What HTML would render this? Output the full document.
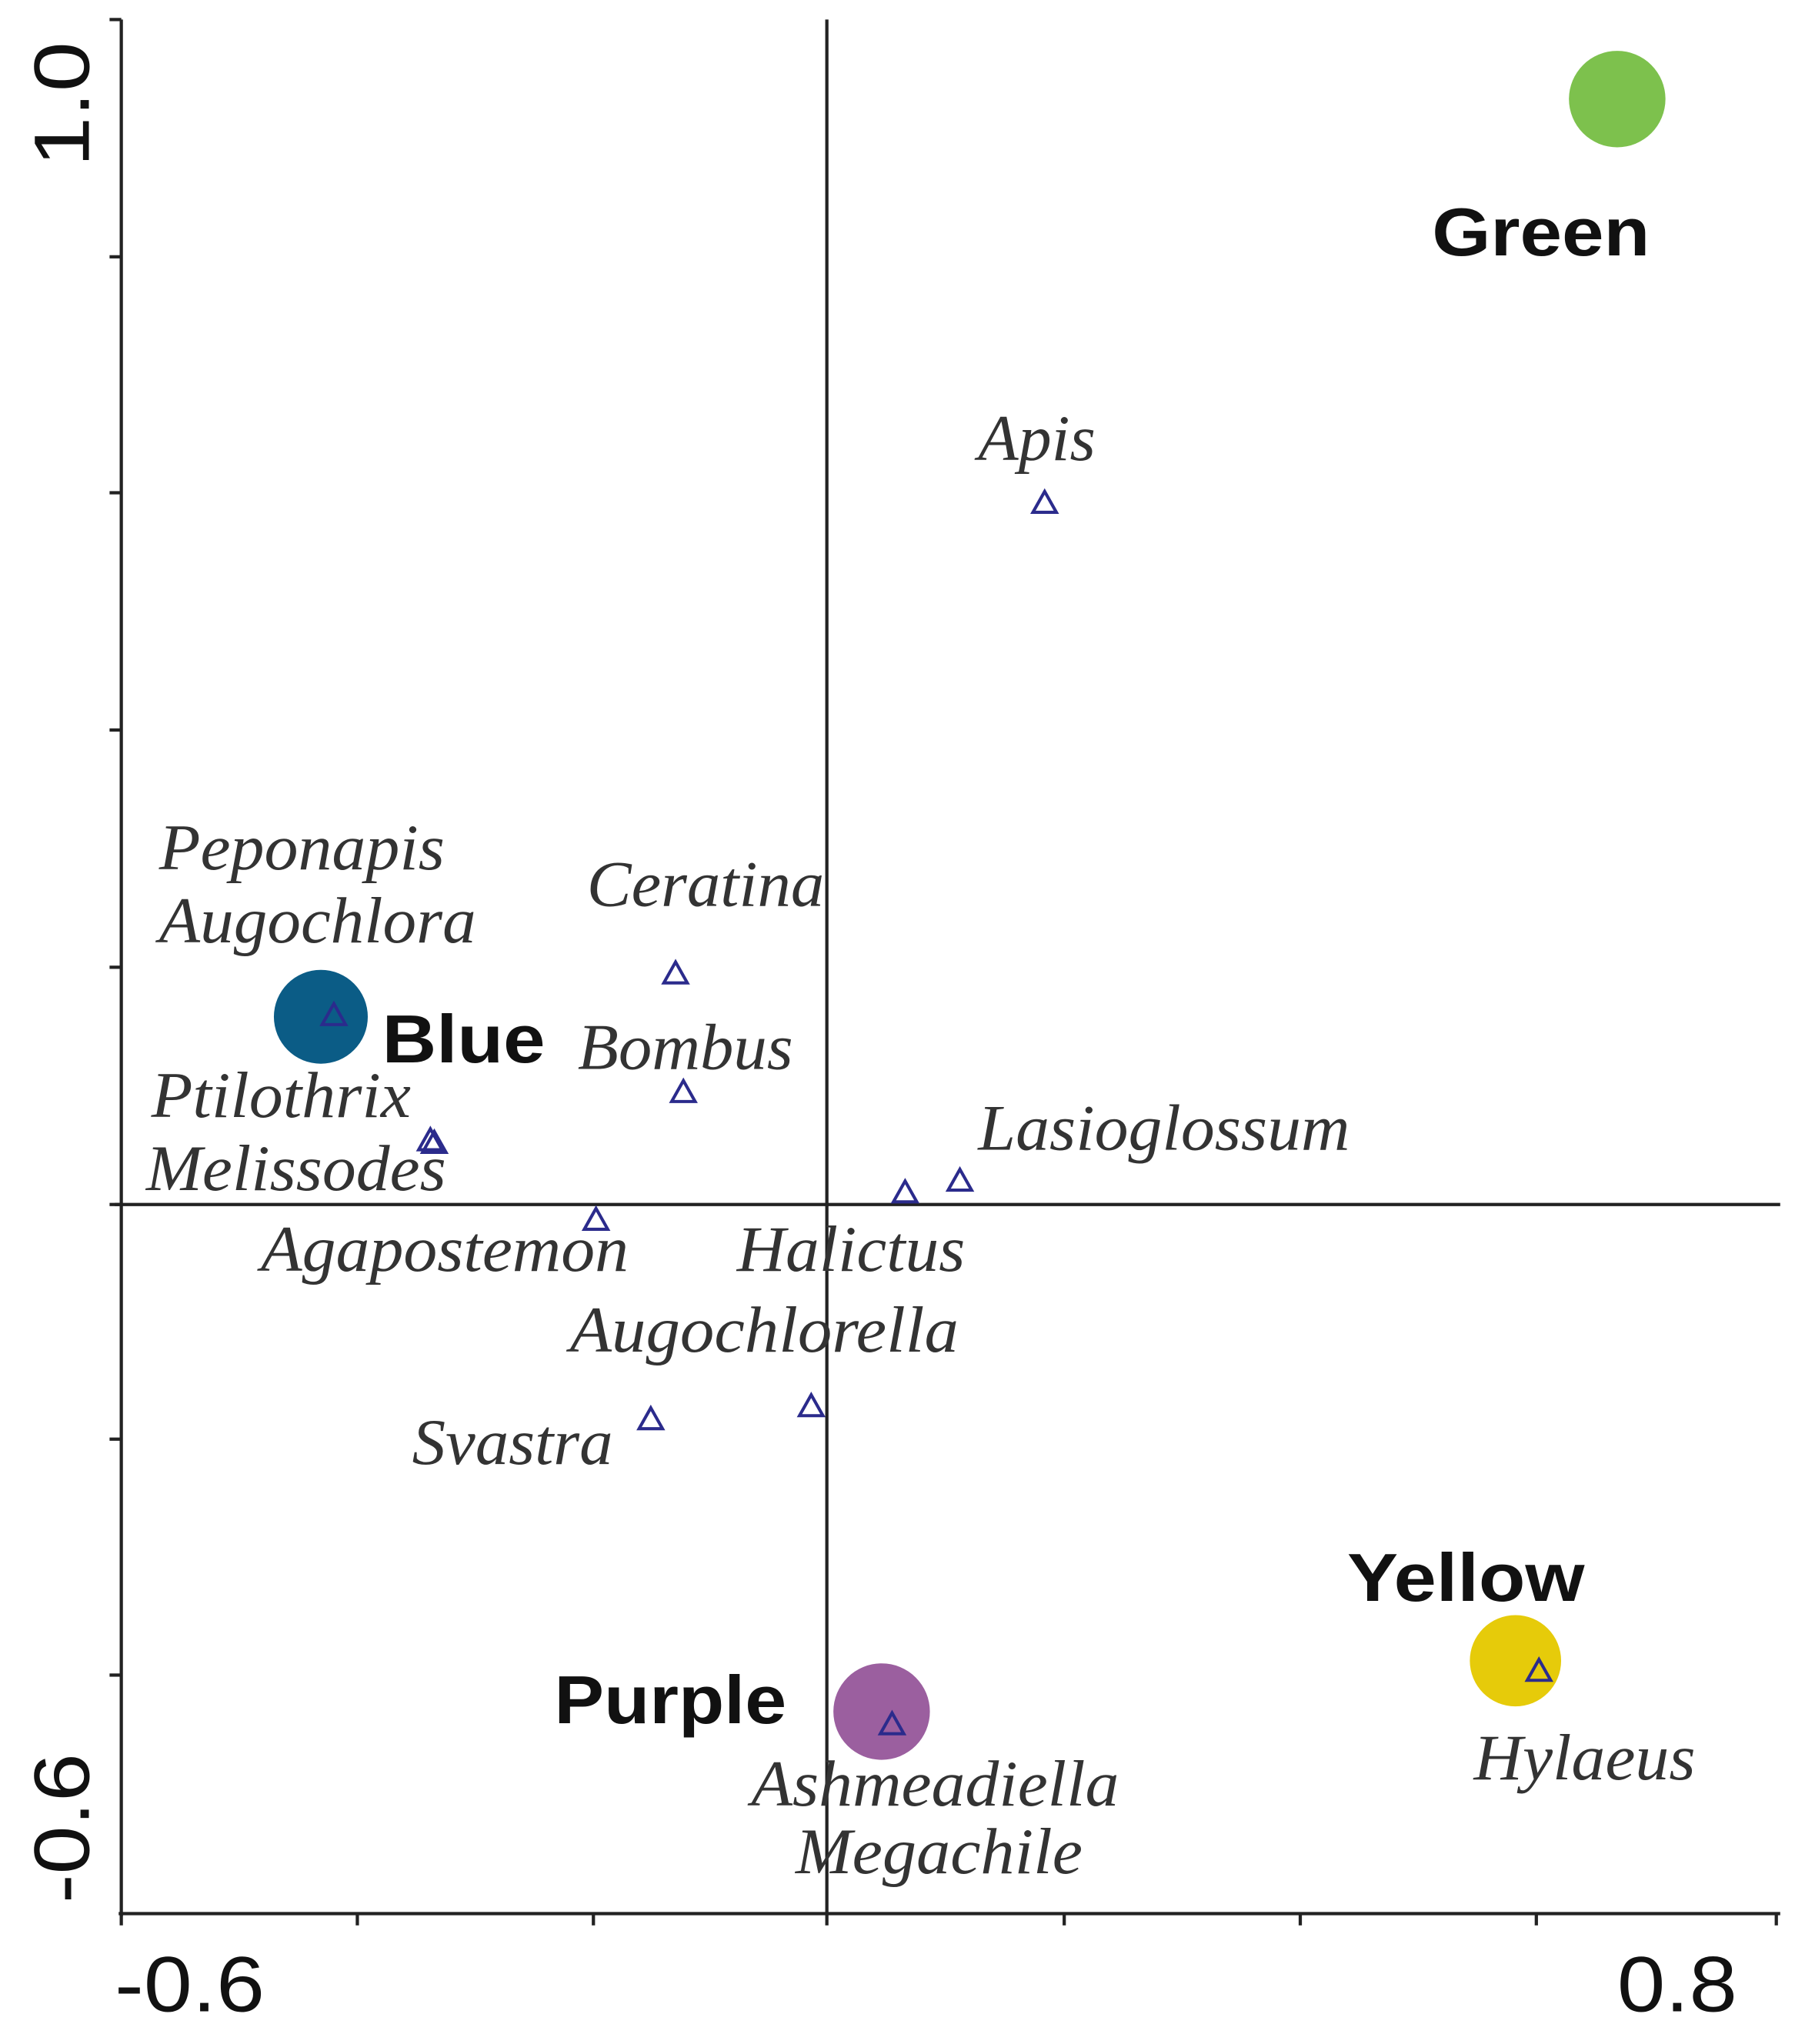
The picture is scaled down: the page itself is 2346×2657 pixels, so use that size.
<!DOCTYPE html>
<html><head><meta charset="utf-8"><style>
html,body{margin:0;padding:0;background:#fff;}
svg{display:block;}
.it{font-family:"Liberation Serif",serif;font-style:italic;font-size:50px;fill:#333;}
.bd{font-family:"Liberation Sans",sans-serif;font-weight:bold;font-size:52px;fill:#111;}
.tk{font-family:"Liberation Sans",sans-serif;font-size:60px;fill:#111;}
</style></head><body>
<svg width="2346" height="2657" viewBox="0 0 1384 1568" preserveAspectRatio="none" xmlns="http://www.w3.org/2000/svg">
<g stroke="#222" stroke-width="2.5" fill="none">
<line x1="93" y1="15" x2="93" y2="1470"/>
<line x1="91" y1="1468" x2="1365" y2="1468"/>
<line x1="634" y1="15" x2="634" y2="1468"/>
<line x1="88" y1="924" x2="1365" y2="924"/>
<line x1="84" y1="15" x2="93" y2="15"/>
<line x1="84" y1="197" x2="93" y2="197"/>
<line x1="84" y1="378" x2="93" y2="378"/>
<line x1="84" y1="560" x2="93" y2="560"/>
<line x1="84" y1="742" x2="93" y2="742"/>
<line x1="84" y1="924" x2="93" y2="924"/>
<line x1="84" y1="1104" x2="93" y2="1104"/>
<line x1="84" y1="1285" x2="93" y2="1285"/>
<line x1="93" y1="1468" x2="93" y2="1477"/>
<line x1="274" y1="1468" x2="274" y2="1477"/>
<line x1="455" y1="1468" x2="455" y2="1477"/>
<line x1="634" y1="1468" x2="634" y2="1477"/>
<line x1="816" y1="1468" x2="816" y2="1477"/>
<line x1="997" y1="1468" x2="997" y2="1477"/>
<line x1="1178" y1="1468" x2="1178" y2="1477"/>
<line x1="1362" y1="1468" x2="1362" y2="1477"/>
</g>
<text class="tk" transform="translate(68,128) rotate(-90)" textLength="96" lengthAdjust="spacingAndGlyphs">1.0</text>
<text class="tk" transform="translate(68,1460) rotate(-90)" textLength="115" lengthAdjust="spacingAndGlyphs">-0.6</text>
<text class="tk" x="88" y="1543" textLength="115" lengthAdjust="spacingAndGlyphs">-0.6</text>
<text class="tk" x="1240" y="1543" textLength="92" lengthAdjust="spacingAndGlyphs">0.8</text>
<circle cx="1240" cy="76" r="37" fill="#7dc14d"/>
<circle cx="246" cy="780" r="36" fill="#0b5c86"/>
<circle cx="676" cy="1313" r="37" fill="#9b5f9f"/>
<circle cx="1162" cy="1274" r="35" fill="#e6cb0a"/>
<g fill="none" stroke="#2b2b8c" stroke-width="2.4">
<path d="M801,377 l9,16 h-18z"/>
<path d="M518,738 l9,16 h-18z"/>
<path d="M256,770 l9,16 h-18z"/>
<path d="M524,829 l9,16 h-18z"/>
<path d="M330,866 l9,16 h-18z"/>
<path d="M333,868 l9,16 h-18z"/>
<path d="M736,897 l9,16 h-18z"/>
<path d="M694,906 l9,16 h-18z"/>
<path d="M457,927 l9,16 h-18z"/>
<path d="M499,1080 l9,16 h-18z"/>
<path d="M622,1070 l9,16 h-18z"/>
<path d="M684,1314 l9,16 h-18z"/>
<path d="M1180,1273 l9,16 h-18z"/>
</g>
<g lengthAdjust="spacingAndGlyphs">
<text class="it" x="750" y="353" textLength="90" lengthAdjust="spacingAndGlyphs">Apis</text>
<text class="bd" x="1098" y="196" textLength="167" lengthAdjust="spacingAndGlyphs">Green</text>
<text class="it" x="122" y="667" textLength="219" lengthAdjust="spacingAndGlyphs">Peponapis</text>
<text class="it" x="122" y="723" textLength="243" lengthAdjust="spacingAndGlyphs">Augochlora</text>
<text class="it" x="450" y="695" textLength="182" lengthAdjust="spacingAndGlyphs">Ceratina</text>
<text class="bd" x="293" y="815" textLength="125" lengthAdjust="spacingAndGlyphs">Blue</text>
<text class="it" x="443" y="820" textLength="165" lengthAdjust="spacingAndGlyphs">Bombus</text>
<text class="it" x="116" y="857" textLength="199" lengthAdjust="spacingAndGlyphs">Ptilothrix</text>
<text class="it" x="112" y="913" textLength="230" lengthAdjust="spacingAndGlyphs">Melissodes</text>
<text class="it" x="750" y="882" textLength="285" lengthAdjust="spacingAndGlyphs">Lasioglossum</text>
<text class="it" x="200" y="975" textLength="282" lengthAdjust="spacingAndGlyphs">Agapostemon</text>
<text class="it" x="565" y="975" textLength="175" lengthAdjust="spacingAndGlyphs">Halictus</text>
<text class="it" x="437" y="1037" textLength="298" lengthAdjust="spacingAndGlyphs">Augochlorella</text>
<text class="it" x="316" y="1123" textLength="154" lengthAdjust="spacingAndGlyphs">Svastra</text>
<text class="bd" x="1033" y="1228" textLength="182" lengthAdjust="spacingAndGlyphs">Yellow</text>
<text class="bd" x="425" y="1322" textLength="178" lengthAdjust="spacingAndGlyphs">Purple</text>
<text class="it" x="576" y="1385" textLength="282" lengthAdjust="spacingAndGlyphs">Ashmeadiella</text>
<text class="it" x="1130" y="1365" textLength="170" lengthAdjust="spacingAndGlyphs">Hylaeus</text>
<text class="it" x="610" y="1437" textLength="220" lengthAdjust="spacingAndGlyphs">Megachile</text>
</g>
</svg>
</body></html>
